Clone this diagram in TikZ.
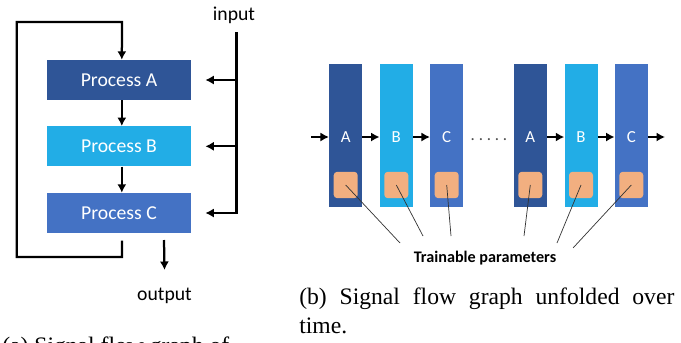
\documentclass[tikz,border=0pt]{standalone}
\usepackage{fontspec}
\setmainfont{Carlito}
\newfontfamily\capfont{Liberation Serif}
\usetikzlibrary{arrows.meta}

\definecolor{procA}{HTML}{2F5597}
\definecolor{procB}{HTML}{22ADE6}
\definecolor{procC}{HTML}{4472C4}
\definecolor{paramc}{HTML}{F2AF80}

\begin{document}
\begin{tikzpicture}[x=0.025cm,y=-0.025cm,
  proc/.style={minimum width=3.6cm,minimum height=1cm,inner sep=0pt,text=white,font=\fontsize{14}{16}\selectfont},
  col/.style={minimum width=0.825cm,minimum height=3.575cm,inner sep=0pt},
  param/.style={fill=paramc,rounded corners=2.5pt,minimum width=0.6cm,minimum height=0.66cm,inner sep=0pt},
  letter/.style={text=white,font=\fontsize{12}{14}\selectfont},
  io/.style={font=\fontsize{14}{16}\selectfont,anchor=base},
  flow/.style={line width=1.6pt,-{Latex[length=6pt,width=6.5pt]}},
  wire/.style={line width=1.6pt},
  pointer/.style={line width=0.5pt,black!80},
  caption/.style={font=\capfont\fontsize{16.8}{20.5}\selectfont,inner sep=0pt,anchor=north west,align=justify}]
  \useasboundingbox (0,0) rectangle (681,342);
  \clip (0,0) rectangle (681,342);

  % folded graph
  \node[proc,fill=procA] (pa) at (119,80) {Process A};
  \node[proc,fill=procB] (pb) at (119,146.3) {Process B};
  \node[proc,fill=procC] (pc) at (119,213) {Process C};
  \draw[flow] ([xshift=2pt]pa.south) -- ([xshift=2pt]pb.north);
  \draw[flow] ([xshift=2pt]pb.south) -- ([xshift=2pt]pc.north);

  \coordinate (fb) at (122,240.5);
  \draw[flow] (fb) |- (16.7,257) |- (122,22) -- ([xshift=2pt]pa.north);

  \node[io] (out) at (164.5,300) {output};
  \coordinate (outstart) at (164,240);
  \draw[flow] (outstart) -- ([yshift=9pt]out.north);

  \node[io] (in) at (234,20) {input};
  \coordinate (bus) at (236.5,32);
  \draw[wire] (bus) -- (236.5,214.3);
  \foreach \p in {pa,pb,pc}
    \draw[flow] (bus |- \p) -- ([xshift=10pt]\p.east);

  % unfolded over time
  \foreach \n/\x/\c/\t in {a1/345.7/procA/A,b1/396.3/procB/B,c1/446.7/procC/C,a2/530.3/procA/A,b2/581/procB/B,c2/631.3/procC/C} {
    \node[col,fill=\c] (\n) at (\x,135.3) {};
    \node[letter] (\n t) at (\x,137) {\t};
    \node[param] (\n p) at (\x,185) {};
  }
  \coordinate (start) at (311,137);
  \coordinate (stop) at (665,137);
  \draw[flow] (start) -- (start -| a1.west);
  \draw[flow] (a1t -| a1.east) -- (a1t -| b1.west);
  \draw[flow] (b1t -| b1.east) -- (b1t -| c1.west);
  \draw[flow] (a2t -| a2.east) -- (a2t -| b2.west);
  \draw[flow] (b2t -| b2.east) -- (b2t -| c2.west);
  \draw[flow] (c2t -| c2.east) -- (stop);
  \node[font=\fontsize{12}{14}\selectfont,text=black!70,anchor=base] (gap) at (489,140.5) {.\ .\ .\ .\ .};

  \node[font=\bfseries\fontsize{11.5}{14}\selectfont,anchor=base] (train) at (485,262) {Trainable parameters};
  \foreach \n/\px/\py in {a1/400/243,b1/423/236,c1/451/236,a2/524/236,b2/557/243,c2/573/248} {
    \coordinate (\n end) at (\px,\py);
    \draw[pointer] (\n p.center) -- (\n end);
  }

  % captions
  \node[caption,text width=7.2cm] (capa) at (2,337) {(a) Signal flow graph of};
  \node[caption,text width=9.375cm] (capb) at (299,288) {(b) Signal flow graph unfolded over time.};
\end{tikzpicture}
\end{document}
